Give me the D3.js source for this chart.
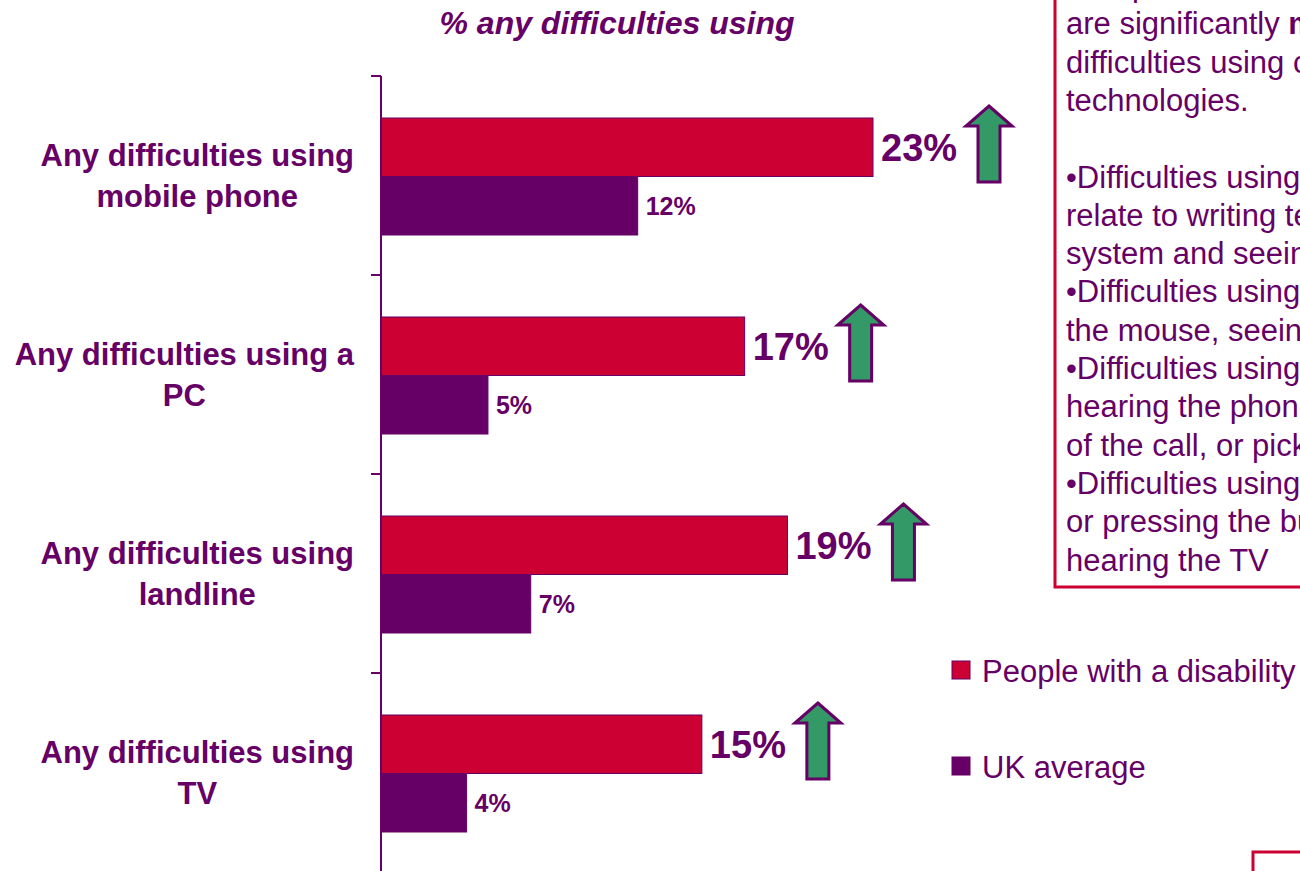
<!DOCTYPE html>
<html>
<head>
<meta charset="utf-8">
<script src="https://cdn.jsdelivr.net/npm/d3@7"></script>
<style>
  html, body { margin: 0; padding: 0; background: #fff; overflow: hidden; }
  svg { display: block; font-family: "Liberation Sans", Arial, sans-serif; }
</style>
</head>
<body>
<svg id="chart" width="1300" height="871"></svg>
<script>
// Values (percent with any difficulty).
const categories = [
  ["Any difficulties using", "mobile phone"],
  ["Any difficulties using a", "PC"],
  ["Any difficulties using", "landline"],
  ["Any difficulties using", "TV"]
];
const seriesNames = ["People with a disability", "UK average"];
const disabilityValues = [23, 17, 19, 15];
const ukValues = [12, 5, 7, 4];
const significantlyHigher = [true, true, true, true];

const noteLines = [
  [["•People with disabilities", false]],
  [["are significantly ", false], ["more", true], [" likely to have", false]],
  [["difficulties using communications", false]],
  [["technologies.", false]],
  [["", false]],
  [["•Difficulties using mobile phones mostly", false]],
  [["relate to writing texts, using the menu", false]],
  [["system and seeing the screen", false]],
  [["•Difficulties using PCs relate to using", false]],
  [["the mouse, seeing the screen", false]],
  [["•Difficulties using landlines relate to", false]],
  [["hearing the phone ring, hearing the other end", false]],
  [["of the call, or picking up the receiver", false]],
  [["•Difficulties using TVs relate to seeing", false]],
  [["or pressing the buttons on the remote, or", false]],
  [["hearing the TV", false]]
];

const RED = "#cc0033", PURPLE = "#660066", GREEN = "#339966";
const svg = d3.select("#chart");

const keys = categories.map((c, i) => "c" + i);
const y = d3.scaleBand().domain(keys).range([76, 872]);
const ySub = d3.scaleBand().domain(seriesNames).range([42, 159]);
const x = d3.scaleLinear().domain([0, 23]).range([381, 873]);
const color = d3.scaleOrdinal().domain(seriesNames).range([RED, PURPLE]);

// title
svg.append("text")
  .attr("x", 617).attr("y", 34)
  .attr("text-anchor", "middle")
  .attr("fill", PURPLE)
  .attr("font-size", 32).attr("font-weight", "bold").attr("font-style", "italic")
  .text("% any difficulties using");

// bars
const rows = keys.map((k, i) => ({ key: k, vals: [disabilityValues[i], ukValues[i]], sig: significantlyHigher[i] }));
const groups = svg.append("g").selectAll("g")
  .data(rows).join("g")
  .attr("transform", d => `translate(0,${y(d.key)})`);

groups.selectAll("rect")
  .data(d => d.vals.map((v, j) => ({ name: seriesNames[j], v })))
  .join("rect")
  .attr("x", x(0))
  .attr("y", d => ySub(d.name))
  .attr("width", d => x(d.v) - x(0))
  .attr("height", ySub.bandwidth())
  .attr("fill", d => color(d.name))
  .attr("stroke", PURPLE).attr("stroke-width", 1);

// value labels
groups.selectAll("text.val")
  .data(d => d.vals.map((v, j) => ({ name: seriesNames[j], v, j })))
  .join("text")
  .attr("class", "val")
  .attr("x", d => x(d.v) + 8)
  .attr("y", d => ySub(d.name) + ySub.bandwidth() / 2)
  .attr("dy", "0.35em")
  .attr("fill", PURPLE)
  .attr("font-weight", "bold")
  .attr("font-size", d => d.j === 0 ? 38 : 25)
  .text(d => d.v + "%");

// green "significantly higher" arrows
const arrow = d3.line()([[0, 0], [23, 20], [11, 20], [11, 76], [-11, 76], [-11, 20], [-23, 20]]) + "Z";
groups.filter(d => d.sig).append("path")
  .attr("d", arrow)
  .attr("transform", d => `translate(${x(d.vals[0]) + 116},30)`)
  .attr("fill", GREEN)
  .attr("stroke", PURPLE).attr("stroke-width", 3)
  .attr("stroke-linejoin", "miter");

// axis line + ticks at band edges
const axis = svg.append("g").attr("stroke", PURPLE).attr("stroke-width", 2);
axis.append("line").attr("x1", 381).attr("x2", 381).attr("y1", 76).attr("y2", 871);
axis.selectAll("line.tick")
  .data(keys.map(k => y(k)).concat([y.range()[1]]))
  .join("line").attr("class", "tick")
  .attr("x1", 371).attr("x2", 381)
  .attr("y1", d => d).attr("y2", d => d);

// category labels: block right-aligned, lines centred within it
const catG = svg.append("g");
categories.forEach((lines, i) => {
  const t = catG.append("text")
    .attr("fill", PURPLE).attr("font-weight", "bold").attr("font-size", 31)
    .attr("text-anchor", "middle");
  const spans = lines.map((s, j) => t.append("tspan")
    .attr("y", y(keys[i]) + y.bandwidth() / 2 - 10 + j * 41)
    .text(s));
  const w = d3.max(spans, s => s.node().getComputedTextLength());
  spans.forEach(s => s.attr("x", 354 - w / 2));
});

// legend
const leg = svg.append("g");
seriesNames.forEach((n, i) => {
  leg.append("rect")
    .attr("x", 952).attr("y", 661 + i * 96).attr("width", 18).attr("height", 18)
    .attr("fill", color(n)).attr("stroke", PURPLE).attr("stroke-width", 1);
  leg.append("text")
    .attr("x", 982).attr("y", 682 + i * 96)
    .attr("fill", PURPLE).attr("font-size", 31)
    .text(n);
});

// notes box (runs off the slide edge)
svg.append("rect")
  .attr("x", 1055).attr("y", -20).attr("width", 400).attr("height", 607)
  .attr("fill", "none").attr("stroke", RED).attr("stroke-width", 3);
const notes = svg.append("text").attr("fill", PURPLE).attr("font-size", 31);
noteLines.forEach((parts, i) => {
  parts.forEach((p, j) => {
    const ts = notes.append("tspan").attr("font-weight", p[1] ? "bold" : null).text(p[0]);
    if (j === 0) ts.attr("x", 1066).attr("y", -4 + i * 38.3);
  });
});

// second box peeking in at bottom right
svg.append("rect")
  .attr("x", 1253).attr("y", 852).attr("width", 200).attr("height", 100)
  .attr("fill", "none").attr("stroke", RED).attr("stroke-width", 3);
</script>
</body>
</html>
